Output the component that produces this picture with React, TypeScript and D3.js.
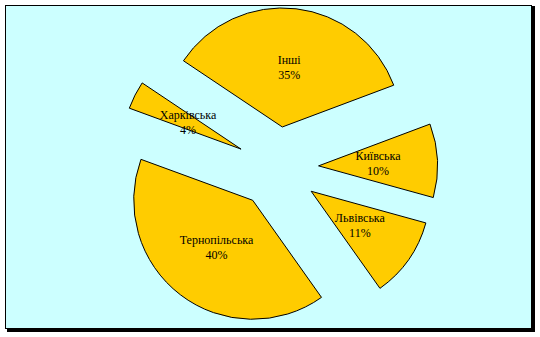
import React from "react";
import * as d3 from "d3";

const categories = ["Інші", "Київська", "Львівська", "Тернопільська", "Харківська"];
const values = [34.9, 10.0, 10.9, 40.4, 3.8];

const W = 540;
const H = 337;
const cx = 277.6;
const cy = 167.7;
const R = 119;
const explode = 41;
const startDeg = -56.2;

export default function App() {
  const total = d3.sum(values);
  const pie = d3
    .pie<number>()
    .sort(null)
    .value((d) => d)
    .startAngle((startDeg * Math.PI) / 180)
    .endAngle((startDeg * Math.PI) / 180 + 2 * Math.PI);
  const arcs = pie(values);
  const arc = d3.arc<d3.PieArcDatum<number>>().innerRadius(0).outerRadius(R);

  return (
    <svg
      width={W}
      height={H}
      style={{ position: "absolute", left: 0, top: 0 }}
      fontFamily="'Liberation Serif', 'Times New Roman', serif"
    >
      <rect x={7} y={6} width={528} height={326} fill="#000" />
      <rect x={5.5} y={5.5} width={526} height={323} fill="#CCFFFF" stroke="#000" strokeWidth={1} />
      {arcs.map((a, i) => {
        const m = (a.startAngle + a.endAngle) / 2;
        const dx = Math.sin(m);
        const dy = -Math.cos(m);
        const ox = cx + explode * dx;
        const oy = cy + explode * dy;
        const lx = ox + R * 0.5 * dx;
        const ly = oy + R * 0.5 * dy;
        const pct = Math.round((values[i] / total) * 100);
        return (
          <g key={categories[i]}>
            <path
              d={arc(a) || ""}
              transform={`translate(${ox},${oy})`}
              fill="#FFCC00"
              stroke="#000"
              strokeWidth={1}
              strokeLinejoin="miter"
            />
            <text
              x={lx}
              y={ly - 7.5}
              textAnchor="middle"
              dominantBaseline="central"
              fontSize={12}
              fill="#000"
            >
              {categories[i]}
            </text>
            <text
              x={lx}
              y={ly + 7.5}
              textAnchor="middle"
              dominantBaseline="central"
              fontSize={12}
              fill="#000"
            >
              {pct}%
            </text>
          </g>
        );
      })}
    </svg>
  );
}
